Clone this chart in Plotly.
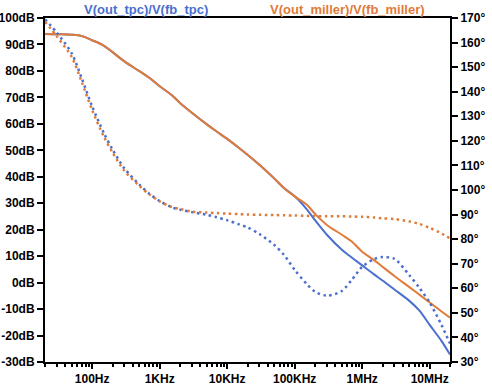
import plotly.graph_objects as go
import math

# Frequencies (Hz)
freq = [20, 30, 50, 70, 100, 150, 200, 300, 500, 700,
        1e3, 1.5e3, 2e3, 3e3, 5e3, 7e3, 1e4, 1.5e4, 2e4, 3e4,
        5e4, 7e4, 1e5, 1.5e5, 2e5, 3e5, 5e5, 7e5, 1e6, 1.5e6,
        2e6, 3e6, 5e6, 7e6, 1e7, 1.5e7, 2e7]

# Magnitude (dB)
mag_tpc = [94.0, 93.9, 93.7, 93.2, 91.6, 89.5, 87.1, 83.6, 79.9, 77.4,
           74.2, 70.9, 67.9, 64.2, 59.8, 57.1, 54.3, 50.9, 48.3, 44.5,
           39.3, 35.7, 32.6, 27.8, 23.6, 18.1, 12.4, 9.5, 6.5, 3.1,
           0.8, -2.6, -6.9, -10.5, -16.0, -22.1, -27.2]
mag_miller = [94.0, 93.9, 93.7, 93.2, 91.6, 89.5, 87.1, 83.6, 79.9, 77.4,
              74.2, 70.9, 67.9, 64.2, 59.8, 57.1, 54.3, 50.9, 48.3, 44.5,
              39.3, 35.7, 32.6, 29.5, 26.0, 21.8, 18.1, 15.5, 11.7, 8.5,
              6.0, 2.5, -1.7, -4.5, -7.5, -10.9, -13.3]

# Phase (degrees)
ph_tpc = [169.5, 164.0, 155.5, 145.5, 134.0, 123.0, 116.5, 108.8, 102.2, 98.5,
          95.5, 93.0, 92.0, 91.0, 89.9, 88.9, 87.7, 86.0, 84.8, 82.1,
          77.6, 73.5, 67.5, 61.8, 58.6, 57.0, 58.9, 63.4, 68.7, 71.9,
          72.7, 72.0, 65.3, 60.3, 54.2, 45.0, 37.5]
ph_miller = [168.5, 162.5, 154.0, 144.0, 132.5, 121.5, 115.3, 107.8, 101.7, 98.3,
             95.4, 93.1, 92.3, 91.2, 90.8, 90.6, 90.4, 90.2, 90.0, 89.9,
             89.8, 89.7, 89.6, 89.5, 89.4, 89.3, 89.3, 89.2, 89.1, 88.8,
             88.5, 88.2, 87.2, 86.2, 84.6, 82.3, 80.3]

x_tickvals = [1e2, 1e3, 1e4, 1e5, 1e6, 1e7]
x_ticktext = ["100Hz", "1KHz", "10KHz", "100KHz", "1MHz", "10MHz"]
db_ticks = list(range(-30, 101, 10))
deg_ticks = list(range(30, 171, 10))

BLUE = "#4a6fcf"
ORANGE = "#e07b39"
FONT = "Arial, Liberation Sans, sans-serif"

fig = go.Figure()
fig.add_trace(go.Scatter(x=freq, y=mag_tpc, mode="lines",
                         line=dict(color=BLUE, width=2, shape="spline", smoothing=1)))
fig.add_trace(go.Scatter(x=freq, y=ph_tpc, mode="lines", yaxis="y2",
                         line=dict(color=BLUE, width=2.5, dash="2.5px,3.5px",
                                   shape="spline", smoothing=0.8)))
fig.add_trace(go.Scatter(x=freq, y=mag_miller, mode="lines",
                         line=dict(color=ORANGE, width=2, shape="spline", smoothing=1)))
fig.add_trace(go.Scatter(x=freq, y=ph_miller, mode="lines", yaxis="y2",
                         line=dict(color=ORANGE, width=2.5, dash="2.5px,3.5px",
                                   shape="spline", smoothing=0.8)))

fig.update_layout(
    width=492, height=389,
    margin=dict(l=45, r=42, t=18, b=27, autoexpand=False),
    paper_bgcolor="white", plot_bgcolor="white",
    showlegend=False,
    font=dict(family=FONT, size=12, color="black"),
    xaxis=dict(type="log", range=[math.log10(20), math.log10(2e7)],
               tickvals=x_tickvals, ticktext=x_ticktext, automargin=False,
               ticks="outside", ticklen=5, tickwidth=2, tickcolor="black",
               minor=dict(ticks="outside", ticklen=3, tickwidth=1.5,
                          tickcolor="black", dtick="D1"),
               showline=True, linewidth=2, linecolor="black", mirror=True,
               showgrid=False, zeroline=False,
               tickfont=dict(family=FONT, size=12, color="black", weight="bold")),
    yaxis=dict(range=[-30, 100], tickvals=db_ticks, automargin=False,
               ticktext=[f"{v}dB" for v in db_ticks],
               ticks="outside", ticklen=6, tickwidth=2, tickcolor="black",
               showline=True, linewidth=2, linecolor="black",
               showgrid=False, zeroline=False,
               tickfont=dict(family=FONT, size=12, color="black", weight="bold")),
    yaxis2=dict(range=[30, 170], tickvals=deg_ticks, automargin=False,
                ticktext=[f"{v}°" for v in deg_ticks],
                overlaying="y", side="right",
                ticks="outside", ticklen=6, tickwidth=2, tickcolor="black",
                showline=True, linewidth=2, linecolor="black",
                showgrid=False, zeroline=False,
                tickfont=dict(family=FONT, size=12, color="black", weight="bold")),
    annotations=[
        dict(text="V(out_tpc)/V(fb_tpc)", xref="paper", yref="paper",
             x=0.249, y=1.0, yanchor="bottom", xanchor="center", yshift=-1,
             showarrow=False, font=dict(family=FONT, size=13, color=BLUE, weight="bold")),
        dict(text="V(out_miller)/V(fb_miller)", xref="paper", yref="paper",
             x=0.746, y=1.0, yanchor="bottom", xanchor="center", yshift=-1,
             showarrow=False, font=dict(family=FONT, size=13, color=ORANGE, weight="bold")),
    ],
)

fig.write_html("out.html", config={"displayModeBar": False},
               post_script="document.body.style.margin='0';document.body.style.padding='0';")
